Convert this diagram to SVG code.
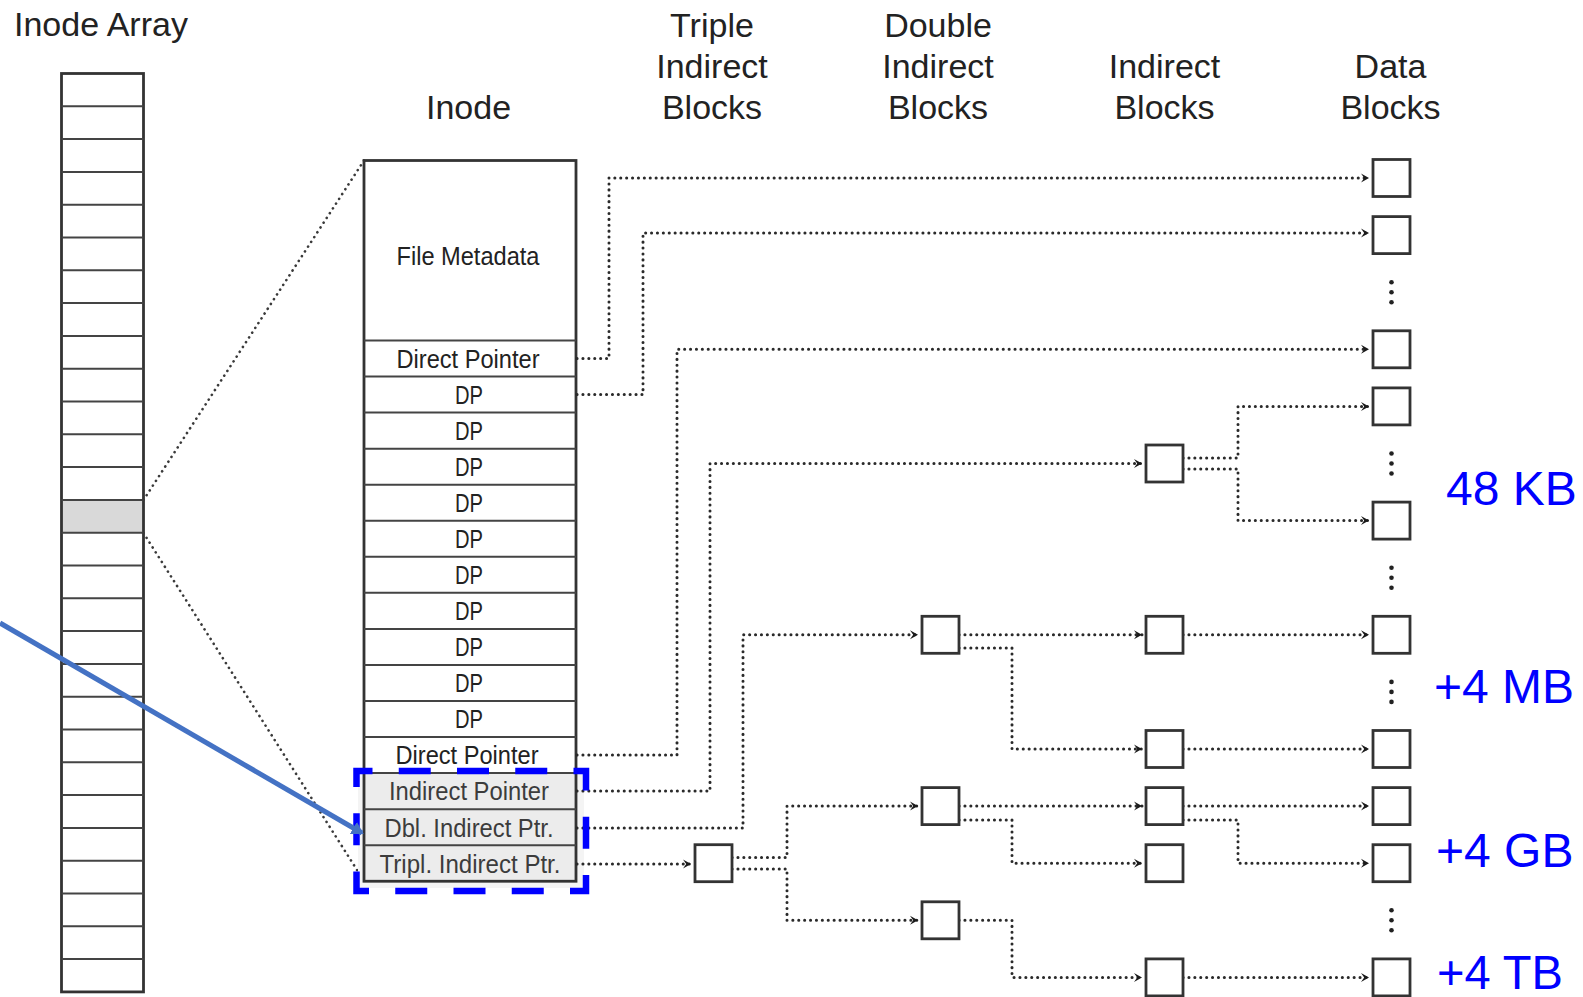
<svg xmlns="http://www.w3.org/2000/svg" width="1583" height="997" viewBox="0 0 1583 997">
<defs>
<style>
.hd{font-family:"Liberation Sans",Arial,sans-serif;font-size:34px;fill:#222;}
.lb{font-family:"Liberation Sans",Arial,sans-serif;font-size:26px;fill:#222;text-anchor:middle;}
.lg{font-family:"Liberation Sans",Arial,sans-serif;font-size:26px;fill:#3c3c3c;text-anchor:middle;}
.sz{font-family:"Liberation Sans",Arial,sans-serif;font-size:48px;fill:#0000ff;}
.box{fill:#fff;stroke:#333;stroke-width:2.8;}
.cell{fill:none;stroke:#444;stroke-width:2;}
.dot{fill:none;stroke:#2a2a2a;stroke-width:3;stroke-linecap:round;stroke-dasharray:0.1 5.8;}
.dot2{fill:none;stroke:#3a3a3a;stroke-width:2.6;stroke-linecap:round;stroke-dasharray:0.1 5.6;}
.ell{fill:#222;}
</style>
<marker id="chev" viewBox="0 0 8 10" refX="8" refY="5" markerWidth="8" markerHeight="10" markerUnits="userSpaceOnUse" orient="auto">
<path d="M0,0.5 L8,5 L0,9.5 L3.2,5 z" fill="#1a1a1a"/>
</marker>
<marker id="barrow" viewBox="0 0 12 14" refX="10" refY="7" markerWidth="12" markerHeight="14" markerUnits="userSpaceOnUse" orient="auto">
<path d="M0,0 L12,7 L0,14 z" fill="#4472c4"/>
</marker>
</defs>
<rect width="1583" height="997" fill="#fff"/>

<!-- headings -->
<g id="headings">
<text class="hd" x="14" y="36">Inode Array</text>
<text class="hd" x="468.5" y="118.5" text-anchor="middle">Inode</text>
<text class="hd" x="712" y="36.5" text-anchor="middle">Triple</text>
<text class="hd" x="712" y="77.5" text-anchor="middle">Indirect</text>
<text class="hd" x="712" y="118.5" text-anchor="middle">Blocks</text>
<text class="hd" x="938" y="36.5" text-anchor="middle">Double</text>
<text class="hd" x="938" y="77.5" text-anchor="middle">Indirect</text>
<text class="hd" x="938" y="118.5" text-anchor="middle">Blocks</text>
<text class="hd" x="1164.5" y="77.5" text-anchor="middle">Indirect</text>
<text class="hd" x="1164.5" y="118.5" text-anchor="middle">Blocks</text>
<text class="hd" x="1390.5" y="77.5" text-anchor="middle">Data</text>
<text class="hd" x="1390.5" y="118.5" text-anchor="middle">Blocks</text>
</g>

<!-- inode array -->
<g id="inode-array">
<rect x="61.5" y="500" width="82" height="32.8" fill="#d9d9d9"/>
<rect x="61.5" y="73.5" width="82" height="918.4" fill="none" stroke="#333" stroke-width="2.8"/>
<path class="cell" d="M61.5,106.3H143.5M61.5,139.1H143.5M61.5,171.9H143.5M61.5,204.7H143.5M61.5,237.5H143.5M61.5,270.3H143.5M61.5,303.1H143.5M61.5,335.9H143.5M61.5,368.7H143.5M61.5,401.5H143.5M61.5,434.3H143.5M61.5,467.1H143.5M61.5,499.9H143.5M61.5,532.7H143.5M61.5,565.5H143.5M61.5,598.3H143.5M61.5,631.1H143.5M61.5,663.9H143.5M61.5,696.7H143.5M61.5,729.5H143.5M61.5,762.3H143.5M61.5,795.1H143.5M61.5,827.9H143.5M61.5,860.7H143.5M61.5,893.5H143.5M61.5,926.3H143.5M61.5,959.1H143.5"/>
</g>

<!-- zoom lines from array to inode -->
<g id="zoom-lines">
<path class="dot2" d="M143.5,500 L364,160.5"/>
<path class="dot2" d="M143.5,533 L364,881"/>
</g>

<!-- inode -->
<g id="inode">
<rect x="358" y="768" width="226" height="120" fill="#f4f4f4"/>
<rect x="364" y="160.5" width="212" height="720.75" fill="#fff"/>
<rect x="364" y="773.1" width="212" height="108.15" fill="#ececec"/>
<rect x="364" y="160.5" width="212" height="720.75" fill="none" stroke="#333" stroke-width="2.8"/>
<path class="cell" d="M364,340.5H576M364,376.55H576M364,412.6H576M364,448.65H576M364,484.7H576M364,520.75H576M364,556.8H576M364,592.85H576M364,628.9H576M364,664.95H576M364,701H576M364,737.05H576M364,773.1H576M364,809.15H576M364,845.2H576"/>
<text class="lb" x="468" y="265" textLength="143" lengthAdjust="spacingAndGlyphs">File Metadata</text>
<text class="lb" x="468" y="367.5" textLength="143" lengthAdjust="spacingAndGlyphs">Direct Pointer</text>
<text class="lb" x="469" y="403.6" textLength="28" lengthAdjust="spacingAndGlyphs">DP</text>
<text class="lb" x="469" y="439.6" textLength="28" lengthAdjust="spacingAndGlyphs">DP</text>
<text class="lb" x="469" y="475.7" textLength="28" lengthAdjust="spacingAndGlyphs">DP</text>
<text class="lb" x="469" y="511.7" textLength="28" lengthAdjust="spacingAndGlyphs">DP</text>
<text class="lb" x="469" y="547.8" textLength="28" lengthAdjust="spacingAndGlyphs">DP</text>
<text class="lb" x="469" y="583.8" textLength="28" lengthAdjust="spacingAndGlyphs">DP</text>
<text class="lb" x="469" y="619.9" textLength="28" lengthAdjust="spacingAndGlyphs">DP</text>
<text class="lb" x="469" y="655.9" textLength="28" lengthAdjust="spacingAndGlyphs">DP</text>
<text class="lb" x="469" y="692" textLength="28" lengthAdjust="spacingAndGlyphs">DP</text>
<text class="lb" x="469" y="728" textLength="28" lengthAdjust="spacingAndGlyphs">DP</text>
<text class="lb" x="467" y="764" textLength="143" lengthAdjust="spacingAndGlyphs">Direct Pointer</text>
<text class="lg" x="469" y="800" textLength="160" lengthAdjust="spacingAndGlyphs">Indirect Pointer</text>
<text class="lg" x="469" y="837" textLength="169" lengthAdjust="spacingAndGlyphs">Dbl. Indirect Ptr.</text>
<text class="lg" x="470" y="873" textLength="181" lengthAdjust="spacingAndGlyphs">Tripl. Indirect Ptr.</text>
</g>

<!-- connectors -->
<g id="connectors" marker-end="url(#chev)">
<path class="dot" d="M577,358.5 H609 V178 H1369"/>
<path class="dot" d="M577,394.5 H643 V233 H1369"/>
<path class="dot" d="M577,755 H677 V349.3 H1369"/>
<path class="dot" d="M577,791 H710 V463.5 H1142"/>
<path class="dot" d="M577,828 H743 V634.8 H918"/>
<path class="dot" d="M577,864 H691"/>
<path class="dot" d="M732,857.5 H787 V806.1 H918"/>
<path class="dot" d="M732,869 H787 V920.3 H918"/>
<path class="dot" d="M959,634.8 H1142"/>
<path class="dot" d="M959,648 H1012 V749 H1142"/>
<path class="dot" d="M959,806.1 H1142"/>
<path class="dot" d="M959,820 H1012 V863.2 H1142"/>
<path class="dot" d="M959,920.3 H1012 V977.4 H1142"/>
<path class="dot" d="M1183,458 H1238 V406.4 H1369"/>
<path class="dot" d="M1183,469 H1238 V520.6 H1369"/>
<path class="dot" d="M1183,634.8 H1369"/>
<path class="dot" d="M1183,749 H1369"/>
<path class="dot" d="M1183,806.1 H1369"/>
<path class="dot" d="M1183,820 H1238 V863.2 H1369"/>
<path class="dot" d="M1183,977.4 H1369"/>
</g>

<!-- triple indirect block -->
<g id="triple-1"><rect class="box" x="695" y="844.7" width="37" height="37"/></g>

<!-- double indirect blocks -->
<g id="double-1"><rect class="box" x="922" y="616.3" width="37" height="37"/></g>
<g id="double-2"><rect class="box" x="922" y="787.6" width="37" height="37"/></g>
<g id="double-3"><rect class="box" x="922" y="901.8" width="37" height="37"/></g>

<!-- indirect blocks -->
<g id="indirect-1"><rect class="box" x="1146" y="445" width="37" height="37"/></g>
<g id="indirect-2"><rect class="box" x="1146" y="616.3" width="37" height="37"/></g>
<g id="indirect-3"><rect class="box" x="1146" y="730.5" width="37" height="37"/></g>
<g id="indirect-4"><rect class="box" x="1146" y="787.6" width="37" height="37"/></g>
<g id="indirect-5"><rect class="box" x="1146" y="844.7" width="37" height="37"/></g>
<g id="indirect-6"><rect class="box" x="1146" y="958.9" width="37" height="37"/></g>

<!-- data blocks -->
<g id="data-1"><rect class="box" x="1373" y="159.5" width="37" height="37"/></g>
<g id="data-2"><rect class="box" x="1373" y="216.6" width="37" height="37"/></g>
<g id="data-3"><rect class="box" x="1373" y="330.8" width="37" height="37"/></g>
<g id="data-4"><rect class="box" x="1373" y="387.9" width="37" height="37"/></g>
<g id="data-5"><rect class="box" x="1373" y="502.1" width="37" height="37"/></g>
<g id="data-6"><rect class="box" x="1373" y="616.3" width="37" height="37"/></g>
<g id="data-7"><rect class="box" x="1373" y="730.5" width="37" height="37"/></g>
<g id="data-8"><rect class="box" x="1373" y="787.6" width="37" height="37"/></g>
<g id="data-9"><rect class="box" x="1373" y="844.7" width="37" height="37"/></g>
<g id="data-10"><rect class="box" x="1373" y="958.9" width="37" height="37"/></g>

<!-- vertical ellipses -->
<g id="ellipses" class="ell">
<circle cx="1391.5" cy="282.2" r="2.3"/><circle cx="1391.5" cy="292.2" r="2.3"/><circle cx="1391.5" cy="302.2" r="2.3"/>
<circle cx="1391.5" cy="453.5" r="2.3"/><circle cx="1391.5" cy="463.5" r="2.3"/><circle cx="1391.5" cy="473.5" r="2.3"/>
<circle cx="1391.5" cy="567.7" r="2.3"/><circle cx="1391.5" cy="577.7" r="2.3"/><circle cx="1391.5" cy="587.7" r="2.3"/>
<circle cx="1391.5" cy="681.9" r="2.3"/><circle cx="1391.5" cy="691.9" r="2.3"/><circle cx="1391.5" cy="701.9" r="2.3"/>
<circle cx="1391.5" cy="910.3" r="2.3"/><circle cx="1391.5" cy="920.3" r="2.3"/><circle cx="1391.5" cy="930.3" r="2.3"/>
</g>

<!-- size labels -->
<g id="sizes">
<text class="sz" x="1446" y="505">48 KB</text>
<text class="sz" x="1434" y="703">+4 MB</text>
<text class="sz" x="1436" y="867">+4 GB</text>
<text class="sz" x="1437" y="989" textLength="126" lengthAdjust="spacingAndGlyphs">+4 TB</text>
</g>

<!-- highlight -->
<g id="highlight">
<rect x="356.5" y="771" width="229.5" height="120" fill="none" stroke="#0000ff" stroke-width="6.5" stroke-dasharray="32 26.25" stroke-dashoffset="16"/>
<path d="M0,623 L362,833" fill="none" stroke="#4472c4" stroke-width="5" marker-end="url(#barrow)"/>
</g>
</svg>
